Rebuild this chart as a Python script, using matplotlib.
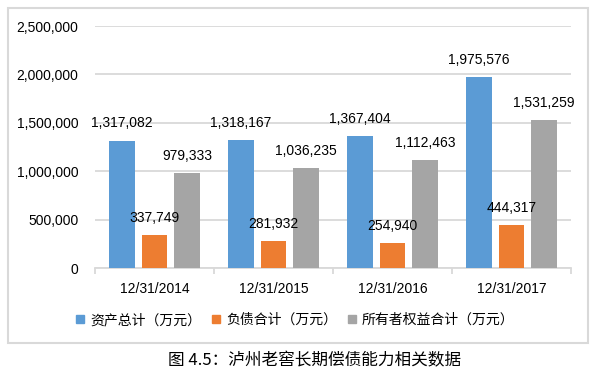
import numpy as np
import matplotlib.pyplot as plt
from matplotlib.lines import Line2D
from matplotlib.patches import Rectangle
from matplotlib.ticker import FuncFormatter

dates = ["12/31/2014", "12/31/2015", "12/31/2016", "12/31/2017"]
assets = [1317082, 1318167, 1367404, 1975576]
liabilities = [337749, 281932, 254940, 444317]
equity = [979333, 1036235, 1112463, 1531259]
series_names = ["资产总计（万元）", "负债合计（万元）", "所有者权益合计（万元）"]
colors = ["#5B9BD5", "#ED7D31", "#A5A5A5"]

CJK = ["Noto Sans CJK SC", "DejaVu Sans"]
NUM = "Liberation Sans"

fig = plt.figure(figsize=(6.13, 3.77), dpi=100)
ax = fig.add_axes([95/613, 1-268/377, 476/613, 242/377])

x = np.arange(len(dates))
w = 0.218
step = 0.273
for i, (vals, c) in enumerate(zip([assets, liabilities, equity], colors)):
    pos = x + (i - 1) * step
    bars = ax.bar(pos, vals, width=w, color=c, zorder=3)
    for b, v in zip(bars, vals):
        ax.annotate(f"{v:,}", (b.get_x() + b.get_width()/2, v),
                    xytext=(0, 12.3), textcoords="offset points",
                    ha="center", va="center", fontsize=10, family=NUM,
                    zorder=6)

ax.set_xlim(-0.5, len(dates) - 0.5)
ax.set_ylim(0, 2500000)
ax.set_yticks(np.arange(0, 2500001, 500000))
ax.yaxis.set_major_formatter(FuncFormatter(lambda v, p: f"{int(v):,}"))
ax.grid(axis="y", color="#D9D9D9", linewidth=1.3, zorder=0)
ax.tick_params(axis="y", length=0, pad=12, labelsize=10)
for lab in ax.get_yticklabels():
    lab.set_family(NUM)

ax.set_xticks(x)
ax.set_xticklabels(dates, fontsize=10, family=NUM)
ax.set_xticks(np.arange(-0.5, len(dates)), minor=True)
ax.tick_params(axis="x", which="major", length=0, pad=10)
ax.tick_params(axis="x", which="minor", length=4, color="#D9D9D9", width=1.3)

for s in ["top", "right", "left"]:
    ax.spines[s].set_visible(False)
ax.spines["bottom"].set_color("#D9D9D9")
ax.spines["bottom"].set_linewidth(1.3)

handles = [Line2D([], [], marker="s", linestyle="none", markersize=5.5,
                  color=c) for c in colors]
fig.legend(handles, series_names, loc="center", bbox_to_anchor=(0.482, 1-320/377),
           ncol=3, frameon=False, prop={"family": CJK, "size": 10},
           handlelength=0.6, handletextpad=0.4, columnspacing=0.8)

fig.patches.append(Rectangle((8/613, 1-343/377), 580/613, 335/377,
                             transform=fig.transFigure, fill=False,
                             edgecolor="#D9D9D9", linewidth=1.5))

fig.text(315/613, 1-361/377, "图 4.5：泸州老窖长期偿债能力相关数据",
         ha="center", va="center", fontsize=12, family=CJK)

fig.savefig("out.png", dpi=100)
